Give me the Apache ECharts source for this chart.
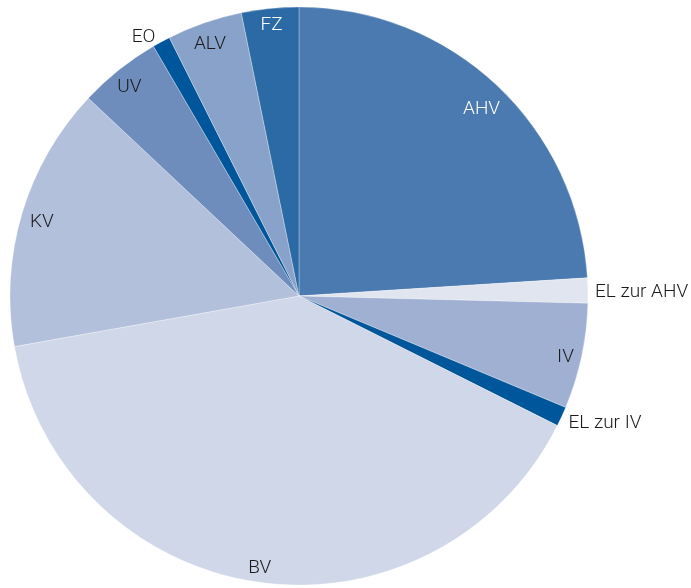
<!DOCTYPE html>
<html>
<head>
<meta charset="utf-8">
<script src="https://cdn.jsdelivr.net/npm/echarts@6/dist/echarts.min.js"></script>
<style>
  html, body { margin: 0; padding: 0; background: #fff; }
</style>
</head>
<body>
<div id="pie" style="width: 691px;height:588px;"></div>
<script>
// Anteile in Prozent (aus dem Bild geschätzt)
var categories = ['AHV', 'EL zur AHV', 'IV', 'EL zur IV', 'BV', 'KV', 'UV', 'EO', 'ALV', 'FZ'];
var values = [24.0, 1.4, 5.9, 1.1, 39.8, 14.8, 4.6, 1.0, 4.2, 3.2];
var colors = ['#4a7aaf', '#e1e5ef', '#9fb0d3', '#00569a', '#cfd7e8', '#b3c0db', '#6e8dbd', '#00569a', '#89a2c9', '#2b6aa5'];

var outsideLabels = ['EL zur AHV', 'EL zur IV', 'EO'];
var whiteLabels = ['AHV', 'FZ'];
// kleine Korrekturen der Beschriftung
var labelShift = {
  'AHV': [-4, 12], 'EL zur AHV': [0, 2], 'IV': [0, 4], 'EL zur IV': [0, 6],
  'BV': [0, 3], 'UV': [0, 4], 'KV': [4, 4], 'EO': [0, -3], 'ALV': [0, 6]
};

var myChart = echarts.init(document.getElementById('pie'));

var sliceData = categories.map(function (name, i) {
  return { name: name, value: values[i], itemStyle: { color: colors[i] } };
});

var labelData = categories.map(function (name, i) {
  var outside = outsideLabels.indexOf(name) >= 0;
  return {
    name: name,
    value: values[i],
    label: {
      position: outside ? 'outside' : 'inside',
      color: whiteLabels.indexOf(name) >= 0 ? '#ffffff' : '#1a1a1a',
      offset: labelShift[name] || [0, 0]
    },
    labelLine: { show: false, length: 2, length2: 0 }
  };
});

var option = {
  animation: false,
  series: [
    {
      type: 'pie',
      center: [299, 296],
      radius: [0, 289],
      startAngle: 90,
      clockwise: true,
      silent: true,
      label: { show: false },
      labelLine: { show: false },
      itemStyle: { borderColor: 'rgba(255,255,255,0.6)', borderWidth: 0.5 },
      data: sliceData
    },
    {
      // unsichtbarer Ring nur für die Beschriftung
      type: 'pie',
      center: [299, 296],
      radius: [250, 289],
      startAngle: 90,
      clockwise: true,
      silent: true,
      avoidLabelOverlap: false,
      itemStyle: { color: 'rgba(0,0,0,0)', borderWidth: 0 },
      label: {
        show: true,
        formatter: '{b}',
        fontFamily: 'Roboto',
        fontWeight: 300,
        fontSize: 19
      },
      data: labelData
    }
  ]
};

myChart.setOption(option);
</script>
</body>
</html>
